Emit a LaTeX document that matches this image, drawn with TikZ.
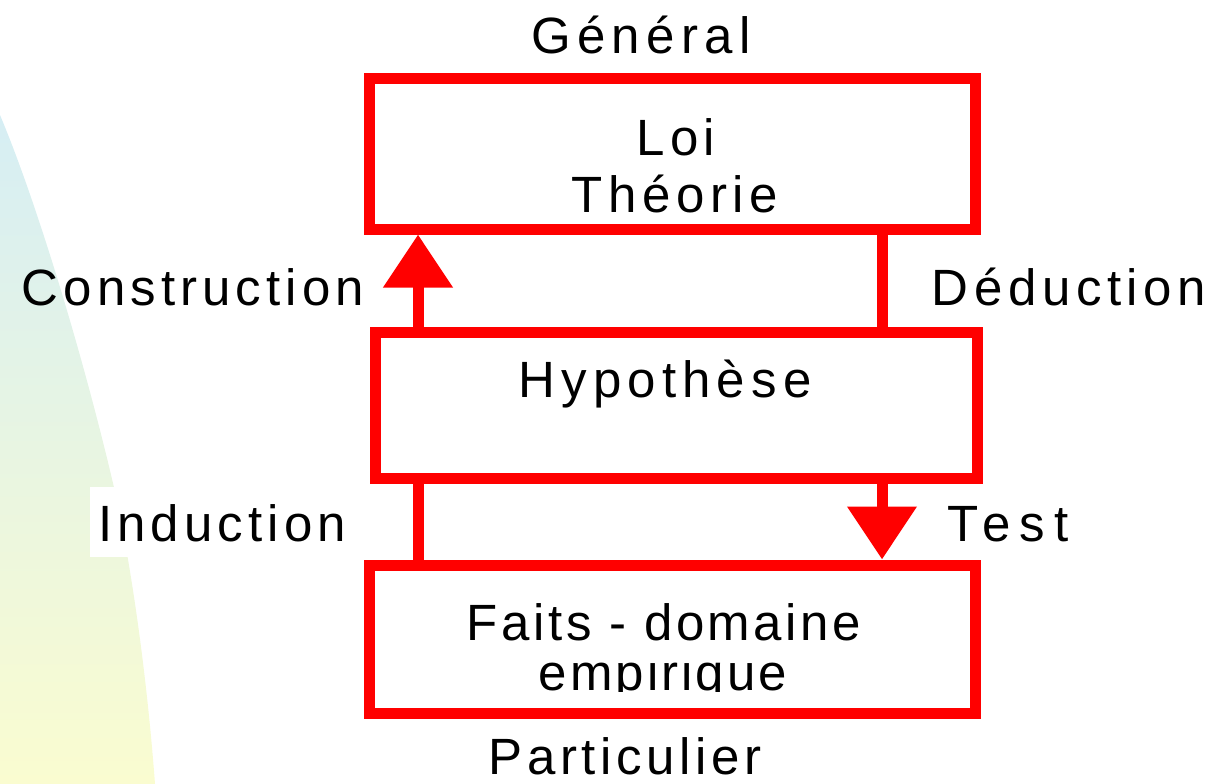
\documentclass[tikz,border=0pt]{standalone}
\usepackage{fontspec}
\setmainfont{Liberation Sans}[LetterSpace=10]
\usetikzlibrary{arrows.meta}
\definecolor{boxred}{RGB}{255,0,0}
\definecolor{skytop}{RGB}{214,238,244}
\definecolor{skybottom}{RGB}{250,252,208}
\begin{document}
\begin{tikzpicture}[x=1pt,y=-1pt,
  every node/.style={font=\fontsize{51}{57}\selectfont, inner sep=0pt},
  stage/.style={draw=boxred, line width=11pt, rectangle, fill=none},
  link/.style={draw=boxred, line width=11pt},
  linkhead/.style={link, -{Triangle[width=67pt,length=53pt]}},
  label/.style={anchor=base},
  spaced/.style={font={\fontsize{51}{57}\selectfont\addfontfeature{LetterSpace=#1}}}]
\useasboundingbox (0,0) rectangle (1213,784);

% soft gradient backdrop on the left
\shade[top color=skytop, bottom color=skybottom]
  (0,115) .. controls (40,210) and (90,380) .. (118,505)
  .. controls (135,590) and (148,690) .. (155,784) -- (0,784) -- cycle;

% the three stages
\node[stage, minimum width=606pt, minimum height=150pt] (loi) at (672,154) {};
\node[stage, minimum width=602pt, minimum height=146pt] (hyp) at (676,405) {};
\node[stage, minimum width=606pt, minimum height=148pt] (faits) at (672,639) {};

% texts inside the stages
\node[label] (tloi) at (676,155) {Loi};
\node[label, spaced=11] (ttheo) at (675,212) {Théorie};
\node[label, spaced=12] (thyp) at (665,397) {Hypothèse};
\node[label, spaced=7] (tfaits) at (664,640) {Faits - domaine};
\begin{scope}
  \clip (380,660) rectangle (970,691);
  \node[label, spaced=6] (temp) at (663,690) {empirique};
\end{scope}

% connectors between the stages
\coordinate (leftrail) at (418,0);
\coordinate (rightrail) at (882,0);
\draw[linkhead] (leftrail |- hyp.north) -- (leftrail |- loi.south);
\draw[link] (rightrail |- loi.south) -- (rightrail |- hyp.north);
\draw[link] (leftrail |- hyp.south) -- (leftrail |- faits.north);
\draw[linkhead] (rightrail |- hyp.south) -- (rightrail |- faits.north);

% side labels
\node[label, spaced=12.5] (general) at (641,54) {Général};
\node[label, spaced=9, text depth=0pt] (particulier) at (625,774) {Particulier};
\node[label] (construction) at (193,305) {Construction};
\node[label, spaced=11] (deduction) at (1069,305) {Déduction};
\node[label, fill=white, inner xsep=8pt, text height=54pt, text depth=16pt] (induction) at (222,541) {Induction};
\node[label, spaced=18] (test) at (1008,541) {Test};
\end{tikzpicture}
\end{document}
